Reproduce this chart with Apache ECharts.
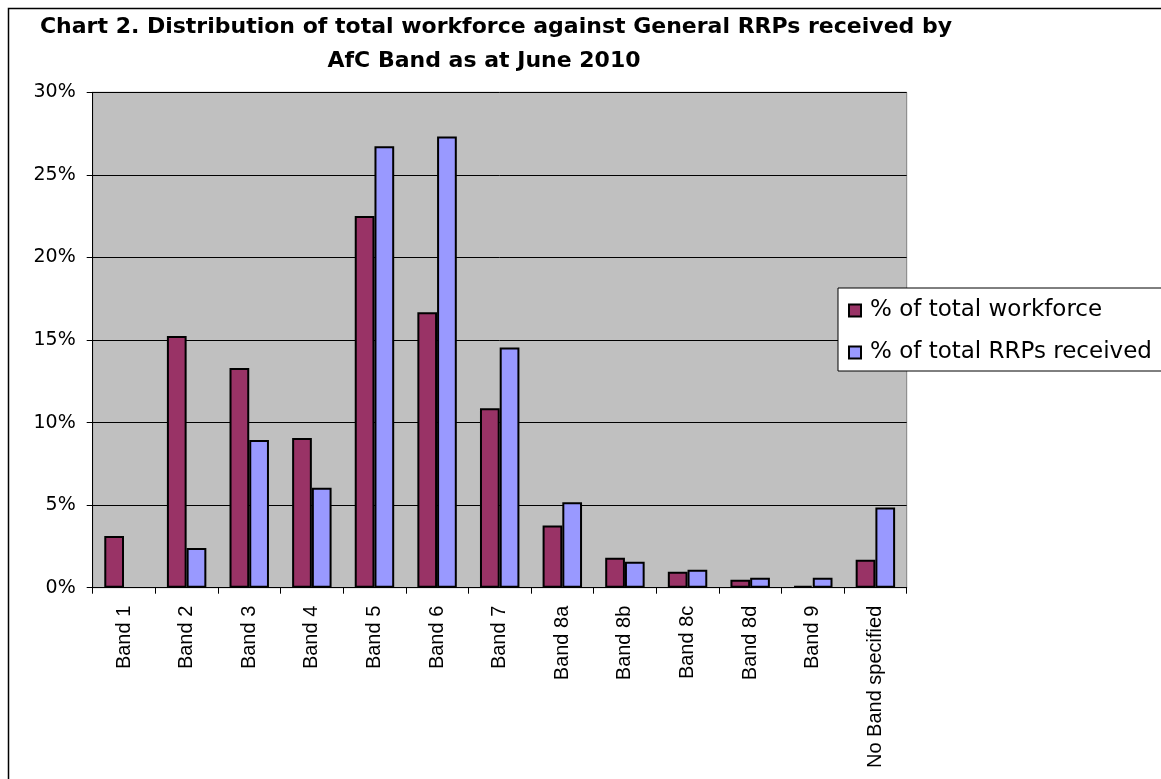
<!DOCTYPE html>
<html>
<head>
<meta charset="utf-8">
<script src="https://cdn.jsdelivr.net/npm/echarts@6/dist/echarts.min.js"></script>
<style>
html,body{margin:0;padding:0;background:#fff;}
#chart{width:1161px;height:779px;}
</style>
</head>
<body>
<div id="chart"></div>
<script>
const titleLine1 = 'Chart 2. Distribution of total workforce against General RRPs received by';
const titleLine2 = 'AfC Band as at June 2010';
const categories = ['Band 1','Band 2','Band 3','Band 4','Band 5','Band 6','Band 7','Band 8a','Band 8b','Band 8c','Band 8d','Band 9','No Band specified'];
const seriesNames = ['% of total workforce','% of total RRPs received'];
const workforce = [3.13, 15.24, 13.31, 9.07, 22.51, 16.68, 10.87, 3.76, 1.82, 0.97, 0.48, 0.12, 1.70];
const rrps = [null, 2.40, 8.95, 6.06, 26.73, 27.32, 14.54, 5.17, 1.57, 1.09, 0.61, 0.61, 4.85];
const yMin = 0, yMax = 30, yStep = 5;

const chart = echarts.init(document.getElementById('chart'), null, {renderer:'canvas'});
const hFont = '"DejaVu Sans", sans-serif';
const vFont = '"Liberation Sans", Arial, sans-serif';
chart.setOption({
  animation:false,
  backgroundColor:'#ffffff',
  graphic:[
    {type:'rect', shape:{x:8.5,y:8.5,width:1300,height:900}, style:{fill:'none',stroke:'#000',lineWidth:1.5}, z:-1},
    {type:'text', x:496, y:27, style:{text:titleLine1, font:'bold 22px "DejaVu Sans", sans-serif', fill:'#000', textAlign:'center', textVerticalAlign:'middle'}},
    {type:'text', x:484, y:61, style:{text:titleLine2, font:'bold 22px "DejaVu Sans", sans-serif', fill:'#000', textAlign:'center', textVerticalAlign:'middle'}}
  ],
  grid:{left:92.7, top:92.3, right:254.3, bottom:191.3, show:true, backgroundColor:'#C0C0C0', borderColor:'#808080', borderWidth:1},
  legend:{
    orient:'vertical', left:838, top:288,
    backgroundColor:'#ffffff', borderColor:'#000', borderWidth:1,
    padding:[11,10,7,10], itemGap:19, itemWidth:12, itemHeight:12, icon:'rect',
    textStyle:{fontFamily:hFont, fontSize:23, color:'#000', padding:[0,0,0,4]},
    data:seriesNames
  },
  xAxis:{
    type:'category', data:categories,
    axisLine:{lineStyle:{color:'#000',width:1}},
    axisTick:{show:true, length:6, lineStyle:{color:'#000'}},
    axisLabel:{rotate:90, margin:18, interval:0, fontFamily:vFont, fontSize:20, color:'#000'}
  },
  yAxis:{
    type:'value', min:yMin, max:yMax, interval:yStep,
    axisLine:{show:true, lineStyle:{color:'#000',width:1}},
    axisTick:{show:true, length:6, lineStyle:{color:'#000'}},
    splitLine:{show:true, lineStyle:{color:'#000',width:1}},
    axisLabel:{margin:17, formatter:'{value}%', fontFamily:hFont, fontSize:19, color:'#000'}
  },
  series:[
    {name:seriesNames[0], type:'bar', data:workforce, barGap:'0%', barCategoryGap:'37%',
     itemStyle:{color:'#993366', borderColor:'#000', borderWidth:2}},
    {name:seriesNames[1], type:'bar', data:rrps, barGap:'0%', barCategoryGap:'37%',
     itemStyle:{color:'#9999FF', borderColor:'#000', borderWidth:2}}
  ]
});
</script>
</body>
</html>
